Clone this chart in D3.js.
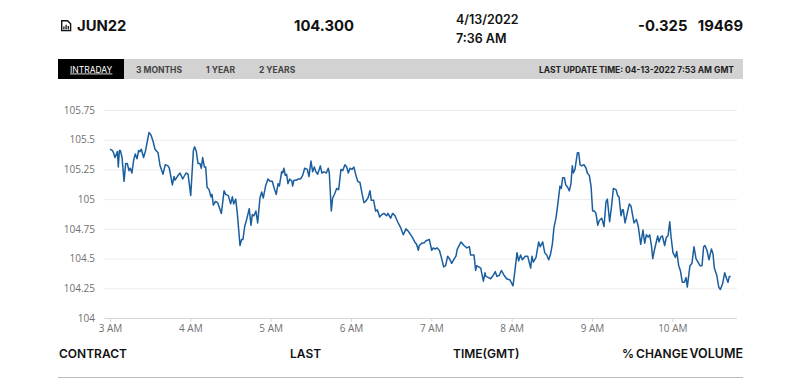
<!DOCTYPE html>
<html>
<head>
<meta charset="utf-8">
<script src="https://cdnjs.cloudflare.com/ajax/libs/d3/7.8.5/d3.min.js"></script>
<style>
html, body { margin: 0; padding: 0; background: #fff; overflow: hidden; }
text { font-family: Inter, "Liberation Sans", sans-serif; }
.head { font-size: 14.8px; font-weight: 700; fill: #111; }
.sub { font-size: 12.5px; font-weight: 600; fill: #111; }
.tab { font-size: 8.5px; font-weight: 700; fill: #444; }
.col { font-size: 12px; font-weight: 600; fill: #111; }
.axis text { font-size: 10px; fill: #707070; font-family: "Open Sans", sans-serif; }
</style>
</head>
<body>
<svg width="800" height="379"></svg>
<script>
// Minutes after 3 AM GMT
var minutes = [
    0,1.7,2.7,3.7,4.5,5.5,6.2,7,7.7,9,
    10.5,11.7,12.9,14.2,15.2,16.4,17.7,18.9,20.2,21.4,
    22.4,23.4,25.1,26.6,29.1,30.6,32.1,33.6,35.9,37.4,
    39.6,41.3,43.3,44.3,46.6,47.8,48.6,50.3,52.3,54.3,
    56.8,58.3,60.3,62.3,63.2,64.5,65.7,67.2,68.2,69.2,
    70.5,71.5,72.5,74,75.4,76.2,77.2,78.7,80.4,81.7,
    83.2,85.2,86.4,88.4,90.1,91.4,92.4,93.9,95.1,97.1,
    98.3,99.3,100.6,102.1,104,105.3,106.3,107.5,109,110.3,
    112,113.3,114.5,116.2,118,119.5,121.2,122.7,124.2,125.5,
    126.5,128.2,129,129.9,130.9,131.9,132.9,134.2,135.9,136.4,
    137.4,139.4,140.6,142.4,143.9,145.4,147.4,148.6,150.1,151.4,
    152.6,153.8,155.1,157.1,158.3,159.8,161.6,163,163.8,165.3,
    166.3,168,169.3,170.8,172.5,173.8,175.5,176.8,178,179.2,
    180.7,182.2,183.7,185,186.7,188.2,189.7,190.9,192.7,194.2,
    195.2,196.9,198.4,199.7,201.4,203.1,204.6,206.6,207.6,209.6,
    211.1,212.9,214.8,217.1,219.1,221.1,222.8,225.8,227.6,229,
    230.3,231,233,234.5,236,238.5,240.3,241.5,242.7,244.2,
    246,247.5,249.2,250.7,252.2,254,255.2,257.2,258.4,259.4,
    262.2,264.4,266.6,268.4,269.4,271.9,273.1,273.9,276.9,278.9,
    280.1,280.8,282.8,284.3,286.3,287.8,289,290.8,292.3,294.3,
    296.3,298.8,301,302.5,304,305.2,306.7,308,310.2,312,
    314.2,315.2,316.2,318.2,320.2,321.4,323.2,324.7,326.2,327.7,
    329.1,330.4,331.6,333.1,334.4,336.1,337.1,338.1,339.4,340.4,
    341.8,343.1,344.3,345.3,346.1,347.3,349.1,350.1,351.1,352.3,
    354,355.6,356.5,358,359.3,360.5,361.8,363,364.3,365.5,
    367.3,369,370.5,371.5,373.2,374.7,376,378,379.2,380.2,
    381.7,382.7,383.4,384.7,385.9,387.9,389.2,391.4,393.2,394.6,
    396.4,398.1,399.4,400.6,401.9,403.1,404.4,405.4,406.6,409.1,
    410.1,411.3,412.6,414.3,415.6,416.8,418.1,419,420.5,422.3,
    423.3,424.8,426,427.5,429,430.3,431.2,433.2,434.7,436.2,
    437.7,439.2,440.7,442.2,443.4,444.4,445.9,447.4,449.2,450.4,
    451.4,453.2,454.7,455.9,457.6,459.1,460.6,461.6,462.6,463.6
];

var prices = [
    105.42,105.41,105.39,105.35,105.37,105.40,105.27,105.41,105.41,105.35,
    105.15,105.30,105.30,105.24,105.26,105.22,105.33,105.38,105.34,105.41,
    105.40,105.42,105.35,105.41,105.56,105.54,105.49,105.42,105.39,105.28,
    105.21,105.29,105.28,105.26,105.12,105.19,105.16,105.19,105.22,105.17,
    105.22,105.21,105.03,105.41,105.44,105.40,105.30,105.30,105.26,105.35,
    105.27,105.27,105.10,105.08,105.02,105.04,104.95,104.98,104.97,104.93,
    104.88,105.07,105.04,105.03,104.96,105.02,104.96,105.00,104.88,104.61,
    104.66,104.66,104.77,104.83,104.92,104.78,104.87,104.86,104.90,104.80,
    105.01,105.06,105.01,105.11,105.17,105.15,105.15,105.09,105.04,105.13,
    105.11,105.23,105.22,105.26,105.20,105.21,105.13,105.17,105.15,105.11,
    105.16,105.16,105.17,105.17,105.20,105.26,105.25,105.19,105.32,105.23,
    105.27,105.23,105.21,105.28,105.22,105.23,105.22,105.26,105.22,104.90,
    105.01,105.05,105.09,105.08,105.25,105.24,105.29,105.27,105.22,105.26,
    105.25,105.27,105.20,105.15,105.14,105.05,104.97,104.98,105.01,105.07,
    104.99,104.99,104.90,104.91,104.85,104.87,104.88,104.86,104.88,104.84,
    104.88,104.86,104.81,104.76,104.70,104.75,104.73,104.68,104.64,104.62,
    104.57,104.61,104.63,104.63,104.65,104.66,104.57,104.59,104.58,104.59,
    104.57,104.51,104.43,104.44,104.52,104.49,104.46,104.50,104.52,104.58,
    104.64,104.61,104.59,104.60,104.53,104.53,104.40,104.44,104.42,104.31,
    104.38,104.35,104.34,104.33,104.36,104.39,104.35,104.36,104.40,104.36,
    104.33,104.32,104.27,104.40,104.55,104.48,104.53,104.49,104.52,104.52,
    104.42,104.52,104.47,104.51,104.64,104.60,104.64,104.55,104.53,104.49,
    104.54,104.62,104.76,104.84,104.95,105.11,105.09,105.18,105.18,105.12,
    105.10,105.07,105.13,105.28,105.22,105.25,105.39,105.39,105.29,105.28,
    105.29,105.26,105.22,105.20,105.11,104.90,104.90,104.88,104.78,104.82,
    104.84,104.77,104.98,105.00,104.81,104.95,105.09,105.08,105.03,105.02,
    104.86,104.91,104.91,104.80,104.86,104.96,104.94,104.80,104.83,104.77,
    104.62,104.74,104.63,104.70,104.68,104.70,104.61,104.50,104.57,104.69,
    104.64,104.68,104.69,104.61,104.68,104.69,104.81,104.69,104.55,104.51,
    104.56,104.44,104.40,104.30,104.30,104.34,104.26,104.44,104.46,104.60,
    104.50,104.47,104.44,104.44,104.60,104.61,104.57,104.49,104.58,104.54,
    104.42,104.36,104.26,104.24,104.29,104.38,104.33,104.30,104.35,104.35
];

// Axis ticks
var yTicks = [104, 104.25, 104.5, 104.75, 105, 105.25, 105.5, 105.75];
var xTicks = [0, 60, 120, 180, 240, 300, 360, 420];
var xTickLabels = ['3 AM', '4 AM', '5 AM', '6 AM', '7 AM', '8 AM', '9 AM', '10 AM'];

var tabs = ['INTRADAY', '3 MONTHS', '1 YEAR', '2 YEARS'];
var tabX = [70, 136, 206, 259];
var columns = ['CONTRACT', 'LAST', 'TIME(GMT)', '% CHANGE', 'VOLUME'];
var columnX = [59, 290, 453, 622, 743];

var svg = d3.select('svg');

var xScale = d3.scaleLinear().domain([0, 420]).range([110, 672.3]);
var yScale = d3.scaleLinear().domain([104, 105.75]).range([318, 110]);
var plotLeft = 104, plotRight = 737;

// Header row
var iconG = svg.append('g').attr('transform', 'translate(61,20)');
iconG.append('path')
    .attr('d', 'M0.7,0.7H6.5L9.6,3.8V10.6H0.7Z')
    .attr('fill', 'none')
    .attr('stroke', '#111')
    .attr('stroke-width', 1.4);
iconG.append('path')
    .attr('d', 'M2.9,9.5V6.5M5.1,9.5V4.8M7.3,9.5V6')
    .attr('stroke', '#111')
    .attr('stroke-width', 1.3);

svg.append('text').attr('class', 'head').attr('x', 77).attr('y', 31).text('JUN22');
svg.append('text').attr('class', 'head').attr('x', 294).attr('y', 31).text('104.300');
svg.append('text').attr('class', 'sub').attr('x', 456).attr('y', 24).text('4/13/2022');
svg.append('text').attr('class', 'sub').attr('x', 456).attr('y', 43).text('7:36 AM');
svg.append('text').attr('class', 'head').attr('x', 638).attr('y', 31).text('-0.325');
svg.append('text').attr('class', 'head').attr('x', 743).attr('y', 31).attr('text-anchor', 'end').text('19469');

// Tab bar
svg.append('rect').attr('x', 58).attr('y', 59).attr('width', 685).attr('height', 20).attr('fill', '#d2d2d2');
svg.append('rect').attr('x', 58).attr('y', 59).attr('width', 66).attr('height', 20).attr('fill', '#000');

svg.selectAll('.tab')
    .data(tabs)
    .enter()
    .append('text')
    .attr('class', 'tab')
    .attr('x', function(d, i) { return tabX[i]; })
    .attr('y', 72.5)
    .style('fill', function(d, i) { return i === 0 ? '#fff' : '#444'; })
    .style('font-weight', function(d, i) { return i === 0 ? 400 : 700; })
    .style('text-decoration', function(d, i) { return i === 0 ? 'underline' : 'none'; })
    .text(function(d) { return d; });

svg.append('text')
    .attr('class', 'tab')
    .attr('x', 734)
    .attr('y', 72.5)
    .attr('text-anchor', 'end')
    .style('fill', '#222')
    .text('LAST UPDATE TIME: 04-13-2022 7:53 AM GMT');

// Grid lines and y labels
var yAxis = d3.axisLeft(yScale)
    .tickValues(yTicks)
    .tickFormat(function(d) { return d; })
    .tickSize(0)
    .tickPadding(9);

var yAxisG = svg.append('g')
    .attr('class', 'axis')
    .attr('transform', 'translate(' + plotLeft + ',0)')
    .call(yAxis);
yAxisG.select('.domain').remove();
yAxisG.selectAll('.tick')
    .append('line')
    .attr('x1', 0)
    .attr('x2', plotRight - plotLeft)
    .attr('stroke', '#ececec');

// Time axis
var xAxis = d3.axisBottom(xScale)
    .tickValues(xTicks)
    .tickFormat(function(d, i) { return xTickLabels[i]; })
    .tickSize(4)
    .tickPadding(3)
    .tickSizeOuter(0);

var xAxisG = svg.append('g')
    .attr('class', 'axis')
    .attr('transform', 'translate(0,318)')
    .call(xAxis);
xAxisG.select('.domain')
    .attr('d', 'M' + plotLeft + ',0.5H' + plotRight)
    .attr('stroke', '#d8d8d8');
xAxisG.selectAll('.tick line').attr('stroke', '#d8d8d8');

// Price line
var line = d3.line()
    .x(function(d, i) { return xScale(minutes[i]); })
    .y(function(d) { return yScale(d); });

svg.append('path')
    .datum(prices)
    .attr('d', line)
    .attr('fill', 'none')
    .attr('stroke', '#1b5e9e')
    .attr('stroke-width', 1.5)
    .attr('stroke-linejoin', 'round');

// Table header below the chart
svg.selectAll('.col')
    .data(columns)
    .enter()
    .append('text')
    .attr('class', 'col')
    .attr('x', function(d, i) { return columnX[i]; })
    .attr('y', 358)
    .attr('text-anchor', function(d, i) { return i === 4 ? 'end' : 'start'; })
    .style('word-spacing', function(d, i) { return i === 3 ? '-1px' : null; })
    .style('font-size', function(d, i) { return i === 4 ? '12.5px' : null; })
    .text(function(d) { return d; });

svg.append('line')
    .attr('x1', 58)
    .attr('x2', 743)
    .attr('y1', 377.5)
    .attr('y2', 377.5)
    .attr('stroke', '#bbb');
</script>
</body>
</html>
